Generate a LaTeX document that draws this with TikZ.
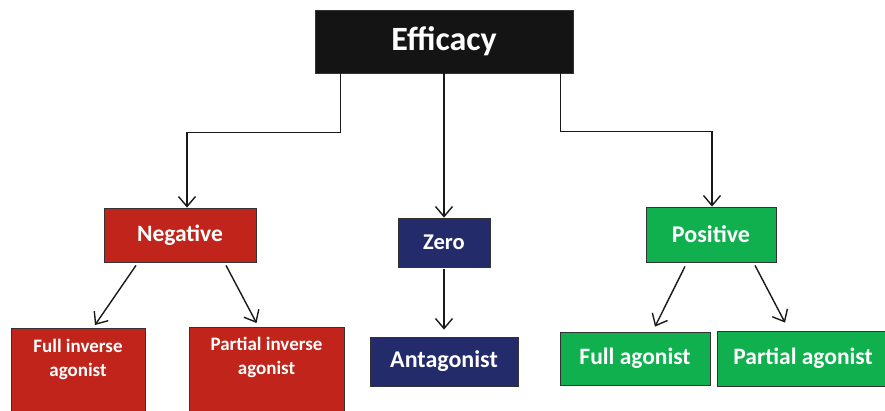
\documentclass[tikz,border=0pt]{standalone}
\usepackage{fontspec}
\setmainfont{Carlito}
\usetikzlibrary{arrows.meta,positioning}
\definecolor{effblack}{HTML}{141414}
\definecolor{negred}{HTML}{C0241A}
\definecolor{zeronavy}{HTML}{232B6B}
\definecolor{posgreen}{HTML}{10B04F}

\begin{document}
\begin{tikzpicture}[
                x=1pt,y=-1pt,
                box/.style={draw=black!80,line width=0.8pt,text=white,font=\bfseries,inner sep=0pt},
                lbl/.style={text=white,align=center,inner sep=0pt},
                arr/.style={draw=black!90,line width=1.4pt,-{Straight Barb[length=10pt,width=17pt]}}
            ]
                \useasboundingbox (0,0) rectangle (885,411);
                \clip (0,0) rectangle (885,411);
                % top
                \node (eff) [box,fill=effblack,minimum width=258pt,minimum height=63pt,font=\bfseries\fontsize{34}{40}\selectfont] at (444,41.5) {Efficacy};
                % second row
                \node (neg)  [box,fill=negred,minimum width=152pt,minimum height=54pt,font=\bfseries\fontsize{23.5}{28}\selectfont] at (180,235) {Negative};
                \node (zero) [box,fill=zeronavy,minimum width=92pt,minimum height=49pt,font=\bfseries\fontsize{22.5}{26}\selectfont] at (444,242.5) {Zero};
                \node (pos)  [box,fill=posgreen,minimum width=130pt,minimum height=55pt,font=\bfseries\fontsize{24}{28}\selectfont] at (711,234.5) {Positive};
                % third row
                \node (fia) [box,fill=negred,minimum width=134pt,minimum height=100pt,anchor=north] at (78,328) {};
                \node (fiatext) [lbl,font=\bfseries\fontsize{19}{24}\selectfont] at (78,359) {Full inverse\\agonist};
                \node (pia) [box,fill=negred,minimum width=155pt,minimum height=100pt,anchor=north] at (266.5,327) {};
                \node (piatext) [lbl,font=\bfseries\fontsize{19}{24}\selectfont] at (266.5,357) {Partial inverse\\agonist};
                \node (ant) [box,fill=zeronavy,minimum width=148pt,minimum height=49pt,font=\bfseries\fontsize{24}{28}\selectfont] at (444,361.5) {Antagonist};
                \node (fa)  [box,fill=posgreen,minimum width=150pt,minimum height=53pt,font=\bfseries\fontsize{23.5}{28}\selectfont] at (635,358.5) {Full agonist};
                \node (pa)  [box,fill=posgreen,minimum width=172pt,minimum height=55pt,font=\bfseries\fontsize{23.5}{28}\selectfont] at (803,358.5) {Partial agonist};
                % connectors
                \draw[arr] ([xshift=26pt]eff.south west) -- ++(0,59) -| ([xshift=7pt]neg.north);
                \draw[arr] (eff.south) -- (zero.north);
                \draw[arr] ([xshift=-13pt]eff.south east) -- ++(0,58) -| ([xshift=1pt]pos.north);
                \draw[arr] ([xshift=-44pt,yshift=-3pt]neg.south) -- ([xshift=17pt,yshift=3pt]fia.north);
                \draw[arr] ([xshift=46pt,yshift=-3pt]neg.south) -- ([xshift=-10pt,yshift=4pt]pia.north);
                \draw[arr] ([yshift=-2pt]zero.south) -- ([yshift=7pt]ant.north);
                \draw[arr] ([xshift=-26pt,yshift=-4pt]pos.south) -- ([xshift=20pt,yshift=5pt]fa.north);
                \draw[arr] ([xshift=44pt,yshift=-3pt]pos.south) -- ([xshift=-18pt,yshift=8pt]pa.north);
            \end{tikzpicture}
\end{document}
